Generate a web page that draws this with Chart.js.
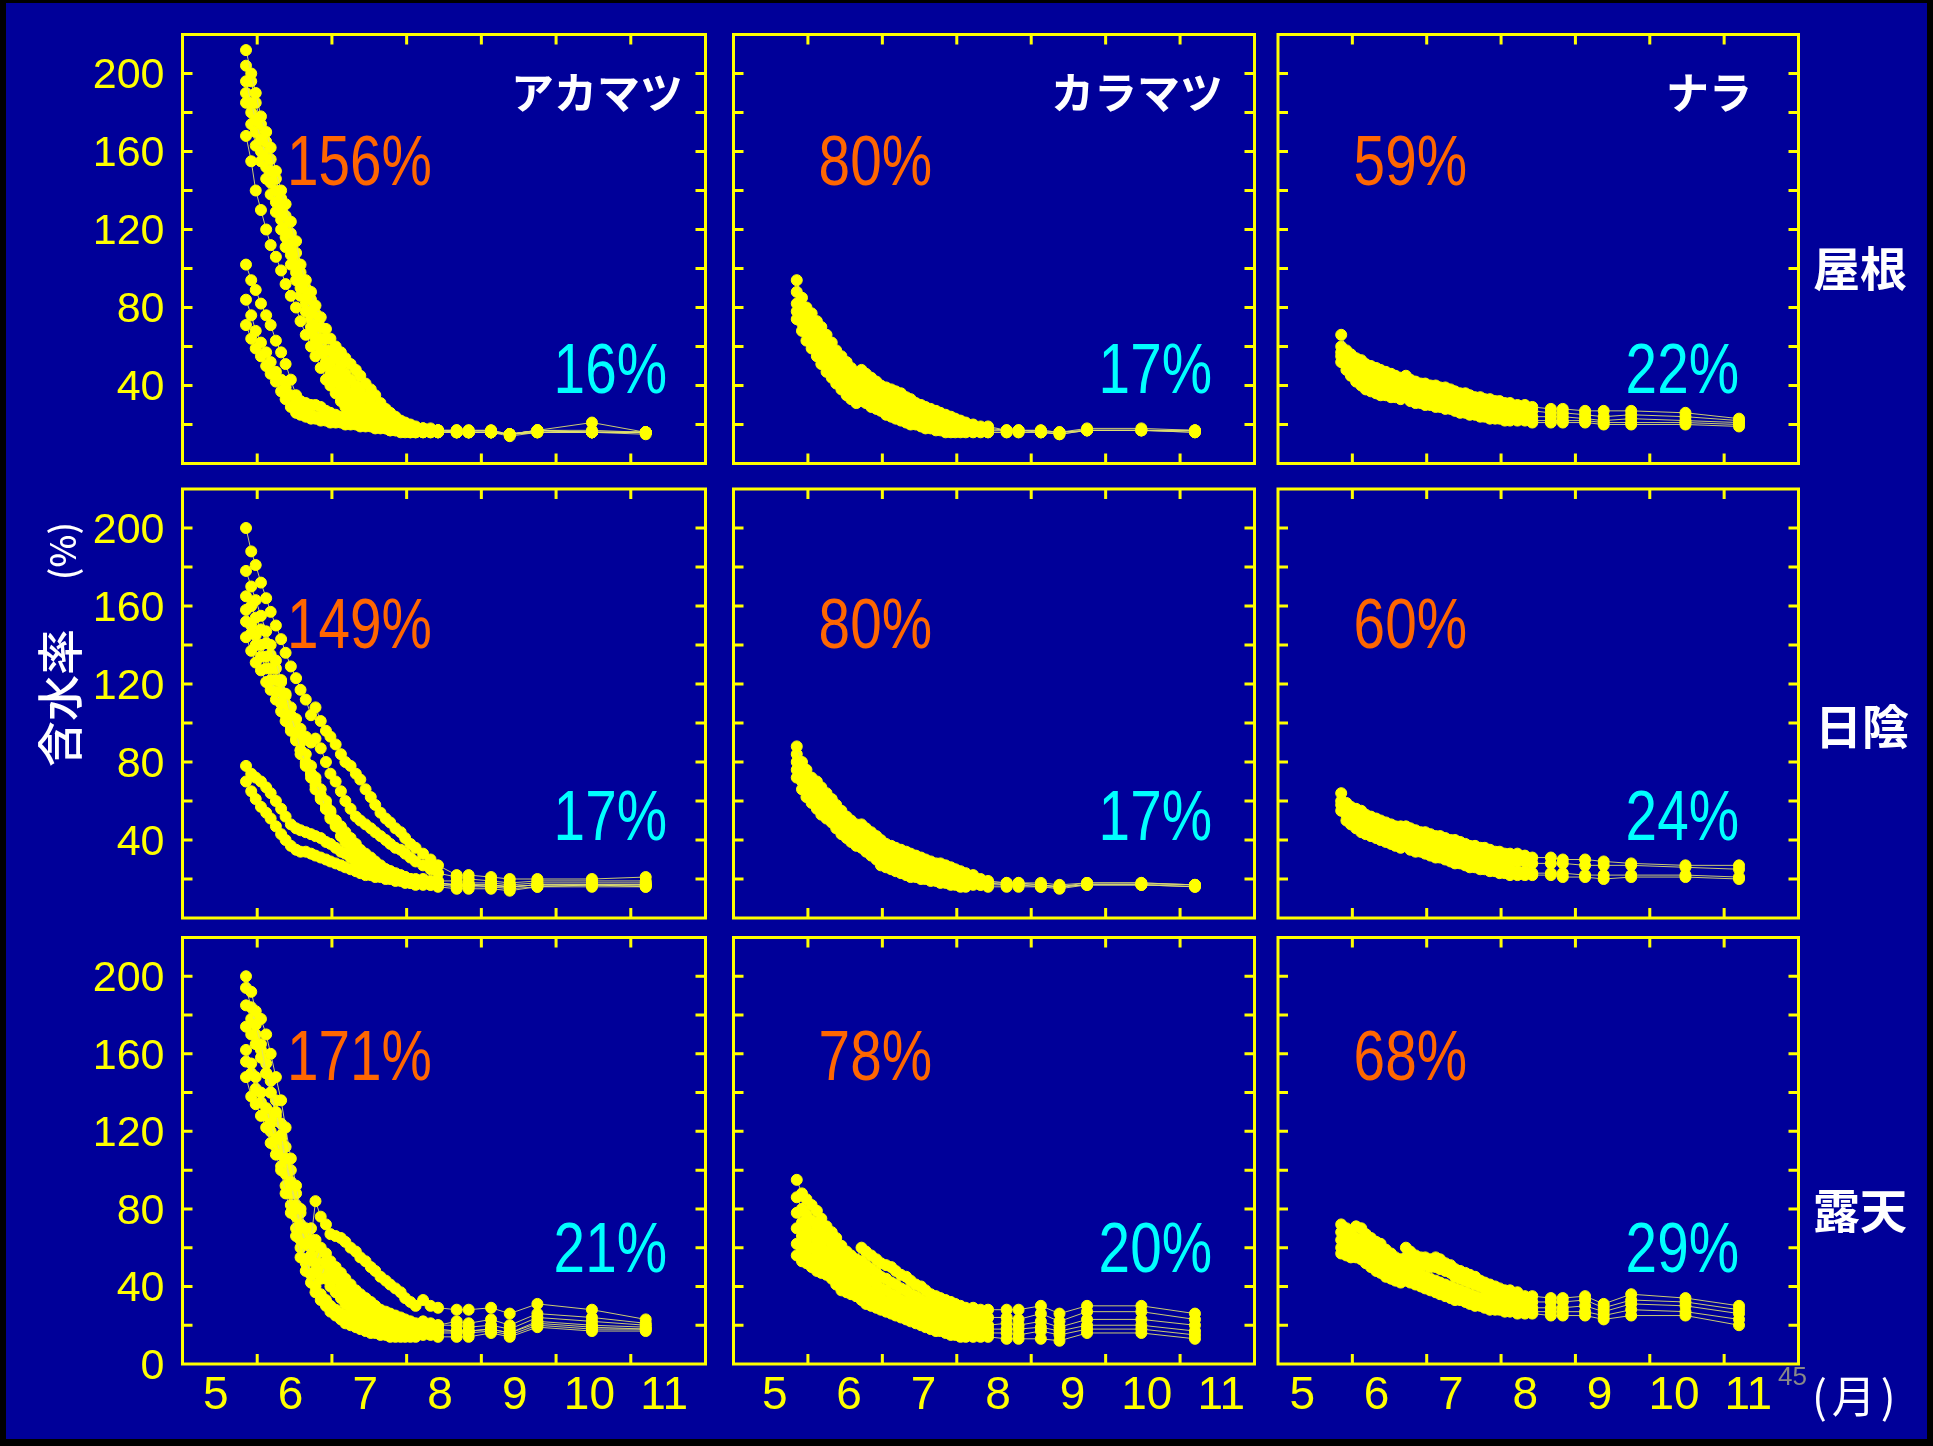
<!DOCTYPE html>
<html><head><meta charset="utf-8">
<script src="https://cdn.jsdelivr.net/npm/chart.js"></script>
<style>
html,body{margin:0;padding:0;background:#000;}
#stage{position:relative;width:1933px;height:1446px;overflow:hidden;background:#000;}
#bg{position:absolute;left:6px;top:3px;width:1921px;height:1436px;background:#000099;}
canvas{position:absolute;}
.t{position:absolute;white-space:nowrap;line-height:1;}
.pct{font-family:'Liberation Sans',Arial,sans-serif;font-size:70px;text-align:right;transform:scaleX(0.81);transform-origin:100% 50%;}
.hd{font-family:'Noto Sans CJK JP',sans-serif;font-weight:700;color:#fff;font-size:43px;text-align:right;}
.rw{font-family:'Noto Sans CJK JP',sans-serif;font-weight:700;color:#fff;font-size:47px;}
.yt{font-family:'Noto Sans CJK JP',sans-serif;color:#fff;font-weight:500;transform:translate(-50%,-50%) rotate(-90deg);}
</style></head>
<body><div id="stage"><div id="bg"></div></div>
<script>
// ---- data ----
const months = [5.85,5.92,5.98,6.05,6.12,6.18,6.25,6.32,6.38,6.45,
 6.52,6.58,6.65,6.72,6.78,6.85,6.92,6.98,7.05,7.12,
 7.18,7.25,7.32,7.38,7.45,7.52,7.58,7.65,7.72,7.78,
 7.85,7.92,7.98,8.05,8.12,8.22,8.32,8.42,8.67,8.83,
 9.13,9.38,9.75,10.48,11.2];
const monthLabels = ['5','6','7','8','9','10','11'];
const yTickValues = [40,80,120,160,200];
const yTickValuesBottom = [0,40,80,120,160,200];
const speciesNames = ['アカマツ','カラマツ','ナラ'];
const siteNames = ['屋根','日陰','露天'];
const startLabels = ['156%','80%','59%','149%','80%','60%','171%','78%','68%'];
const endLabels = ['16%','17%','22%','17%','17%','24%','21%','20%','29%'];

// 屋根 アカマツ
const yaneAka1=[212,200,190,178,170,162,150,140,133,124,114,102,94,88,81,75,69,64,60,57,54,51,48,45,41,38,35,31,28,26,24,22,21,20,19,18,18,17,17,17,17,15,17,21,16];
const yaneAka2=[204,196,185,174,165,156,146,136,127,118,108,98,90,84,77,70,64,58,54,50,46,43,40,37,34,31,28,26,24,22,21,20,19,19,18,18,17,17,17,16,16,15,17,16,16];
const yaneAka3=[196,185,176,166,158,150,140,130,121,112,103,94,85,78,71,64,58,52,47,43,39,36,33,30,28,26,24,22,21,20,19,19,18,18,18,17,17,17,16,16,16,15,17,16,16];
const yaneAka4=[185,174,163,155,146,138,129,120,111,102,94,86,78,70,64,58,52,46,42,38,34,31,29,27,25,23,22,21,20,19,18,18,17,17,17,17,17,16,16,16,16,15,16,16,16];
const yaneAka5=[168,155,140,130,120,112,106,99,92,86,80,73,66,60,55,49,43,40,36,32,29,27,25,23,22,21,20,19,18,17,17,16,16,16,16,16,16,16,16,16,16,15,16,16,16];
const yaneAka6=[102,94,89,82,76,71,63,57,51,43,35,32,31,30,30,29,27,26,25,24,24,23,23,22,22,21,21,20,20,19,19,19,18,18,18,18,17,17,17,17,17,15,17,17,16];
const yaneAka7=[84,76,68,62,57,52,47,43,39,35,31,28,26,25,24,24,23,23,22,22,21,21,21,20,20,20,19,19,19,18,18,18,17,17,17,17,17,17,16,16,16,15,17,16,16];
const yaneAka8=[71,64,59,55,50,46,42,37,33,29,26,25,24,23,23,22,22,21,21,21,20,20,20,19,19,19,18,18,18,17,17,17,17,16,16,16,16,16,16,16,16,14,16,16,15];
const yaneAka9=[190,180,170,160,152,144,134,125,116,107,98,90,82,74,67,61,55,49,44,40,36,33,31,28,26,24,23,21,20,19,19,18,18,17,17,17,17,16,16,16,16,15,16,16,16];
// 屋根 カラマツ
const yaneKara1=[94,85,80,77,73,70,66,62,58,55,52,49,46,48,46,44,42,40,39,38,37,36,34,33,31,30,29,28,27,26,25,24,23,22,21,20,19,19,17,17,17,16,18,18,17];
const yaneKara2=[88,81,76,72,68,65,61,57,54,51,48,45,42,45,43,41,39,37,35,34,33,31,30,29,28,27,26,25,24,23,22,21,21,20,20,19,18,18,17,17,17,16,17,17,17];
const yaneKara3=[82,76,71,67,63,60,56,53,49,46,43,41,38,41,39,37,35,33,31,30,29,28,26,25,24,23,22,22,21,20,20,19,19,18,18,18,17,17,17,17,16,16,17,17,17];
const yaneKara4=[78,72,67,63,59,55,52,48,45,42,39,37,34,38,36,34,32,30,28,27,26,25,24,23,22,21,20,20,19,19,18,18,17,17,17,17,17,16,16,16,16,15,17,17,16];
const yaneKara5=[74,68,63,59,55,51,47,44,41,38,35,33,31,32,31,29,28,27,25,24,23,22,21,20,20,19,18,18,17,17,16,16,16,16,16,16,16,16,16,16,16,15,17,17,16];
// 屋根 ナラ
const yaneNara1=[66,58,56,54,53,51,50,49,48,47,46,45,44,45,43,42,41,41,40,40,39,39,38,37,36,36,35,34,34,33,33,32,32,31,31,30,30,29,28,28,27,27,27,26,23];
const yaneNara2=[60,55,52,50,49,47,46,45,44,43,42,41,40,42,40,39,38,37,37,36,36,35,35,34,33,33,32,31,31,30,30,29,29,28,28,27,27,27,26,26,25,24,25,24,22];
const yaneNara3=[57,52,49,47,45,44,42,41,40,39,39,38,37,39,37,36,35,34,34,33,33,32,32,31,30,30,29,29,28,28,27,27,26,26,25,25,25,24,24,24,23,22,23,22,21];
const yaneNara4=[55,50,47,44,42,40,39,38,37,37,36,35,35,36,35,34,33,32,32,31,31,30,30,29,28,28,27,27,26,26,25,25,24,24,23,23,23,22,22,22,22,21,21,21,20];
const yaneNara5=[52,48,45,42,40,38,37,36,35,35,34,34,33,34,32,31,31,30,30,29,29,28,28,27,26,26,25,25,24,24,23,23,23,22,22,22,22,21,21,21,21,20,20,20,19];
// 日陰 アカマツ
const hikageAka1=[200,188,181,172,164,157,150,143,136,129,123,117,112,104,108,101,96,93,89,84,80,78,74,71,66,62,58,54,51,49,46,44,41,38,36,33,30,27,22,22,21,20,20,20,21];
const hikageAka2=[178,170,163,155,147,140,132,122,115,104,95,86,79,74,70,63,56,51,47,42,39,36,34,32,30,29,27,26,25,24,22,21,20,19,19,19,18,18,17,17,17,16,17,17,17];
const hikageAka3=[165,160,154,148,141,135,128,121,114,108,102,97,93,90,92,87,80,74,70,65,60,56,52,50,48,46,44,42,40,38,36,35,33,31,29,27,25,23,21,20,19,18,19,19,19];
const hikageAka4=[144,137,131,127,121,117,112,106,101,96,91,84,78,72,66,61,56,52,48,45,42,39,36,33,31,29,27,25,23,22,21,20,19,18,18,18,17,17,16,16,16,15,16,17,16];
const hikageAka5=[158,150,145,140,134,128,122,116,110,103,97,90,84,78,72,66,60,55,50,46,42,38,35,32,30,28,26,24,23,22,21,20,19,19,18,18,18,17,17,17,16,16,17,17,17];
const hikageAka6=[78,74,72,70,67,64,60,56,52,48,46,45,44,43,42,41,39,38,36,34,33,31,29,28,27,26,25,24,23,22,22,21,21,20,20,20,19,19,19,18,18,17,18,18,18];
const hikageAka7=[70,65,61,57,54,51,47,43,40,37,35,34,34,33,32,31,30,29,28,27,26,25,24,23,22,22,21,21,20,20,19,19,18,18,17,17,17,16,15,15,15,14,16,16,16];
const hikageAka8=[152,146,140,134,128,122,116,110,104,98,92,86,80,74,68,62,58,54,50,47,44,41,38,35,33,31,29,27,25,24,23,22,21,20,19,19,18,18,17,17,17,16,17,17,17];
// 日陰 カラマツ
const hikageKara1=[88,80,76,72,70,67,64,61,58,55,52,50,48,48,46,44,42,40,38,37,36,35,34,33,32,31,30,29,28,28,27,26,25,24,23,22,20,19,18,18,18,17,18,18,17];
const hikageKara2=[84,76,72,68,65,62,59,57,54,51,49,47,45,44,42,40,38,36,34,33,32,31,30,29,28,27,26,25,24,24,23,22,22,21,20,19,19,18,18,18,17,16,18,18,17];
const hikageKara3=[80,73,69,65,62,59,56,54,51,48,46,44,42,41,39,37,35,33,31,30,29,28,27,26,25,24,23,23,22,21,21,20,20,19,19,18,18,18,17,17,17,16,17,17,17];
const hikageKara4=[76,70,66,62,59,56,54,51,49,46,44,42,40,38,37,35,33,30,29,28,27,26,25,24,23,22,22,21,21,20,19,19,18,18,18,18,17,17,17,17,16,16,17,17,16];
const hikageKara5=[72,66,62,59,56,53,51,49,46,43,41,39,37,36,34,32,30,27,26,25,24,23,22,21,21,20,20,19,19,18,18,17,17,16,16,17,17,16,16,16,16,15,17,17,16];
// 日陰 ナラ
const hikageNara1=[64,59,57,56,55,53,52,51,50,49,48,47,47,47,46,45,44,44,43,42,42,41,40,40,39,38,37,37,36,36,35,34,34,33,33,33,32,31,31,30,30,29,28,27,27];
const hikageNara2=[60,56,54,52,51,50,49,48,47,46,45,44,44,44,43,42,41,40,40,39,38,38,37,36,36,35,34,33,33,32,31,31,30,30,29,29,29,28,28,28,27,27,27,26,25];
const hikageNara3=[58,53,51,49,47,46,45,44,43,42,41,40,39,40,39,38,37,36,35,35,34,33,33,32,31,30,30,29,28,28,27,26,26,25,25,24,24,23,23,23,22,22,22,22,21];
const hikageNara4=[55,50,48,46,44,43,42,41,40,39,38,37,36,37,35,34,34,33,32,31,31,30,29,28,28,27,26,26,25,25,24,24,23,23,22,22,22,22,22,21,21,20,21,21,20];
// 露天 アカマツ
const rotenAka1=[200,192,182,178,170,160,148,136,122,106,92,80,70,64,84,76,72,67,66,65,63,60,58,55,53,50,48,45,43,41,39,37,34,32,30,33,30,29,28,28,29,26,31,28,23];
const rotenAka2=[194,184,175,165,150,140,130,118,106,94,82,72,62,56,52,60,57,53,50,47,44,41,38,36,34,32,30,28,27,26,25,24,23,22,21,22,21,20,20,19,20,18,24,22,20];
const rotenAka3=[174,170,165,158,150,140,128,116,104,92,80,70,62,54,48,44,52,49,46,43,40,37,34,31,29,27,25,23,22,21,20,20,19,19,18,19,18,18,17,17,18,16,22,20,19];
const rotenAka4=[162,155,148,140,132,124,116,108,98,88,76,64,54,46,40,36,33,30,28,26,25,24,23,22,21,20,19,18,18,17,17,17,17,16,16,17,16,16,16,16,17,15,20,18,18];
const rotenAka5=[148,138,134,128,122,114,108,100,88,78,66,55,48,42,37,33,30,27,25,23,21,20,19,18,17,16,16,15,15,14,14,14,14,14,14,15,15,14,14,14,16,14,19,17,17];
const rotenAka6=[185,178,170,162,155,146,136,124,112,100,88,78,68,60,54,48,44,40,37,34,31,29,27,25,24,23,22,21,20,19,19,18,18,18,17,18,17,17,17,17,18,16,21,19,18];
const rotenAka7=[156,150,142,135,128,120,112,102,92,82,70,60,52,70,64,58,53,48,44,40,37,34,31,29,27,26,25,24,23,22,22,21,21,20,20,21,20,20,22,21,23,20,26,24,21];
// 露天 カラマツ
const rotenKara1=[95,88,85,82,79,75,71,68,65,61,58,56,54,60,58,56,54,52,51,50,48,46,45,43,41,40,38,36,35,34,33,32,31,30,29,29,28,28,28,28,30,26,30,30,26];
const rotenKara2=[86,80,77,74,71,68,65,62,59,56,53,51,49,53,51,49,47,45,44,42,41,39,38,36,35,33,32,31,30,29,28,27,26,25,25,25,24,24,24,23,26,22,27,27,23];
const rotenKara3=[78,73,70,67,64,61,58,56,53,50,48,46,44,47,45,43,41,39,38,36,35,33,32,31,30,29,28,27,26,25,24,23,23,22,21,21,21,20,21,20,22,19,23,23,20];
const rotenKara4=[70,66,63,60,58,55,53,50,48,45,43,41,39,41,39,37,35,34,32,31,30,29,28,27,26,25,24,23,22,21,20,19,19,18,18,18,18,18,18,18,19,17,20,20,17];
const rotenKara5=[62,59,56,54,52,50,48,46,44,41,39,37,35,36,34,32,31,30,29,28,27,26,25,24,23,22,21,20,19,18,18,17,16,16,15,16,16,16,16,15,17,15,18,18,15];
const rotenKara6=[56,53,52,50,48,47,46,44,41,38,37,36,35,33,31,30,29,28,27,26,25,24,23,22,21,20,19,18,17,17,16,15,15,14,14,14,14,14,13,13,13,12,16,16,13];
// 露天 ナラ
const rotenNara1=[72,70,68,71,70,67,65,63,62,59,57,55,54,60,58,56,55,55,54,55,54,52,51,49,48,47,46,45,43,42,41,40,39,38,38,37,35,35,34,34,35,31,36,34,30];
const rotenNara2=[68,66,64,65,64,62,60,58,57,55,53,52,51,55,53,52,51,51,50,50,49,48,47,45,44,43,42,41,40,39,38,37,36,35,34,33,32,32,32,32,33,29,33,32,28];
const rotenNara3=[64,62,60,61,60,58,56,54,52,51,49,48,47,50,49,47,46,45,44,43,42,41,40,39,38,37,36,35,34,34,33,32,31,31,30,30,29,29,29,29,30,27,31,30,26];
const rotenNara4=[60,58,57,57,56,54,52,50,49,47,46,45,44,46,45,44,42,41,40,39,38,37,36,35,34,33,32,32,31,30,30,29,29,28,28,27,27,27,27,27,27,25,28,27,23];
const rotenNara5=[57,56,55,55,54,52,50,48,47,45,44,43,42,43,42,41,40,39,38,37,36,35,34,33,33,32,31,30,30,29,28,28,28,27,27,26,26,26,25,25,25,23,25,25,20];

const panelSeries = [
 [yaneAka1,yaneAka2,yaneAka3,yaneAka9,yaneAka4,yaneAka5,yaneAka6,yaneAka7,yaneAka8],
 [yaneKara1,yaneKara2,yaneKara3,yaneKara4,yaneKara5],
 [yaneNara1,yaneNara2,yaneNara3,yaneNara4,yaneNara5],
 [hikageAka1,hikageAka2,hikageAka3,hikageAka8,hikageAka4,hikageAka5,hikageAka6,hikageAka7],
 [hikageKara1,hikageKara2,hikageKara3,hikageKara4,hikageKara5],
 [hikageNara1,hikageNara2,hikageNara3,hikageNara4],
 [rotenAka1,rotenAka2,rotenAka3,rotenAka4,rotenAka5,rotenAka6,rotenAka7],
 [rotenKara1,rotenKara2,rotenKara3,rotenKara4,rotenKara5,rotenKara6],
 [rotenNara1,rotenNara2,rotenNara3,rotenNara4,rotenNara5]
];

// ---- layout ----
const colL=[182.5,733.5,1278], colR=[705.5,1254.5,1798.5];
const rowT=[34.5,489,937.5], rowB=[463.5,918,1364];
const xLabelShift=[-4,4,-13];
const YEL='#FFFF00';
const NUMFONT="'Liberation Sans', Arial, sans-serif";
const stage=document.getElementById('stage');

const framePlugin={
  id:'frame',
  afterDatasetsDraw(chart){
    const {ctx, chartArea:a, scales:{x,y}}=chart;
    ctx.save();
    ctx.strokeStyle=YEL; ctx.lineWidth=3;
    ctx.strokeRect(a.left,a.top,a.right-a.left,a.bottom-a.top);
    ctx.beginPath();
    for(let m=6;m<=11;m++){
      const px=x.getPixelForValue(m);
      ctx.moveTo(px,a.top); ctx.lineTo(px,a.top+10);
      ctx.moveTo(px,a.bottom); ctx.lineTo(px,a.bottom-10);
    }
    for(let v=20;v<=200;v+=20){
      const py=y.getPixelForValue(v);
      ctx.moveTo(a.left,py); ctx.lineTo(a.left+10,py);
      ctx.moveTo(a.right,py); ctx.lineTo(a.right-10,py);
    }
    ctx.stroke();
    ctx.restore();
  }
};

panelSeries.forEach((series,idx)=>{
  const r=Math.floor(idx/3), c=idx%3;
  const L=colL[c], R=colR[c], T=rowT[r], B=rowB[r];
  const isLeft=c===0, isBottom=r===2;
  const M=50;
  const x0=isLeft?0:Math.floor(L-M);
  const y0=Math.floor(T-M);
  const x1=Math.ceil(R+M);
  const y1=isBottom?Math.ceil(B+80):Math.ceil(B+M);
  const cv=document.createElement('canvas');
  cv.width=x1-x0; cv.height=y1-y0;
  cv.style.left=x0+'px'; cv.style.top=y0+'px';
  cv.style.width=(x1-x0)+'px'; cv.style.height=(y1-y0)+'px';
  stage.appendChild(cv);
  new Chart(cv,{
    type:'line',
    data:{datasets:series.map(s=>({
      data:months.map((m,i)=>({x:m,y:s[i]})),
      borderColor:'rgba(225,225,110,0.9)', borderWidth:1, tension:0, fill:false,
      pointRadius:5.5, pointBorderWidth:1,
      pointBackgroundColor:YEL, pointBorderColor:YEL
    }))},
    options:{
      responsive:false, animation:false, events:[],
      layout:{padding:{left:isLeft?0:L-x0, top:T-y0, right:x1-R, bottom:isBottom?0:y1-B}},
      plugins:{legend:{display:false}, tooltip:{enabled:false}},
      scales:{
        x:{type:'linear', min:5, max:12, display:isBottom,
           grid:{display:false, drawTicks:false}, border:{display:false},
           afterBuildTicks:s=>{ s.ticks=monthLabels.map((_,i)=>({value:5.5+i})); },
           afterFit:s=>{ s.height = isBottom ? (y1-B) : 0; },
           ticks:{color:YEL, font:{family:NUMFONT, size:46}, padding:5, labelOffset:xLabelShift[c],
                  autoSkip:false, maxRotation:0, minRotation:0,
                  callback:(v,i)=>monthLabels[i]}},
        y:{type:'linear', min:0, max:220, display:isLeft,
           grid:{display:false, drawTicks:false}, border:{display:false},
           afterBuildTicks:s=>{ s.ticks=(isBottom?yTickValuesBottom:yTickValues).map(v=>({value:v})); },
           afterFit:s=>{ s.width = isLeft ? (L-x0) : 0; },
           ticks:{color:YEL, font:{family:NUMFONT, size:43}, padding:18, labelOffset:3,
                  autoSkip:false, callback:v=>String(v)}}
      }
    },
    plugins:[framePlugin]
  });
});

// ---- text ----
function addText(txt, cls, st){
  const d=document.createElement('div');
  d.className='t '+cls; d.textContent=txt;
  Object.assign(d.style, st);
  stage.appendChild(d); return d;
}
const orRight=[432,932.5,1467], cyRight=[667,1212,1739.5];
const orTop=[126,589,1021], cyTop=[334,781,1213];
startLabels.forEach((t,i)=>{
  const r=Math.floor(i/3), c=i%3;
  addText(t,'pct',{right:(1933-orRight[c])+'px', top:orTop[r]+'px', color:'#FF6600'});
});
endLabels.forEach((t,i)=>{
  const r=Math.floor(i/3), c=i%3;
  addText(t,'pct',{right:(1933-cyRight[c])+'px', top:cyTop[r]+'px', color:'#00FFFF'});
});
const hdRight=[683,1223,1752];
speciesNames.forEach((t,c)=>addText(t,'hd',{right:(1933-hdRight[c])+'px', top:'69px'}));
const rwPos=[[1813,242],[1815,700],[1813,1184]];
siteNames.forEach((t,r)=>addText(t,'rw',{left:rwPos[r][0]+'px', top:rwPos[r][1]+'px'}));
addText('含水率','yt',{left:'57px', top:'698px', fontSize:'46px'});
addText('(%)','yt',{left:'60px', top:'551px', fontSize:'35px'});
addText('45','',{left:'1778px', top:'1363px', fontSize:'26px', color:'#888888', fontFamily:NUMFONT});
addText('(月)','',{left:'1812px', top:'1372px', fontSize:'44px', color:'#ffffff', letterSpacing:'5px', fontFamily:"'Noto Sans CJK JP',sans-serif"});
</script>
</body></html>
